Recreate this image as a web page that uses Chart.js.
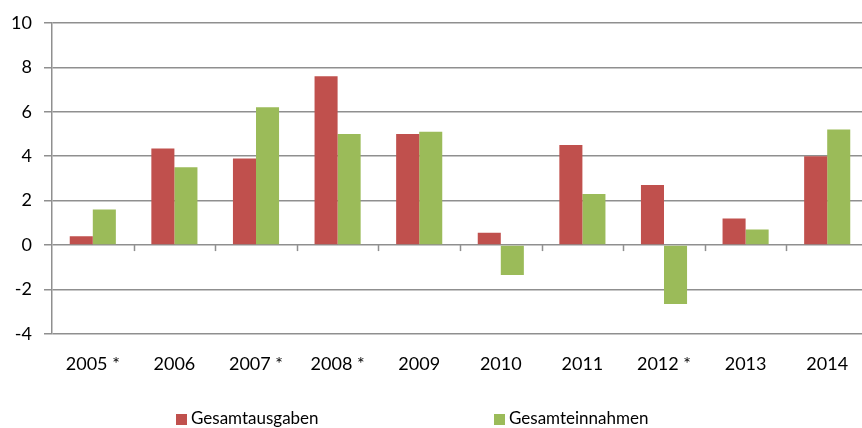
<!DOCTYPE html>
<html>
<head>
<meta charset="utf-8">
<script src="https://cdn.jsdelivr.net/npm/chart.js@4/dist/chart.umd.min.js"></script>
<style>
  html, body { margin: 0; padding: 0; background: #ffffff; overflow: hidden; }
  #wrap { width: 862px; height: 428px; overflow: hidden; }
  canvas { display: block; }
</style>
</head>
<body>
<div id="wrap"><canvas id="c" width="868" height="428"></canvas></div>
<script>
// Jahre (mit * gekennzeichnete Jahre laut Fußnote)
const categories = ['2005 *', '2006', '2007 *', '2008 *', '2009', '2010', '2011', '2012 *', '2013', '2014'];

// Veränderung gegenüber Vorjahr in %
const gesamtausgaben = [0.4, 4.35, 3.9, 7.6, 5.0, 0.55, 4.5, 2.7, 1.2, 4.0];
const gesamteinnahmen = [1.6, 3.5, 6.2, 5.0, 5.1, -1.35, 2.3, -2.65, 0.7, 5.2];

// y-Achse
const yTicks = [-4, -2, 0, 2, 4, 6, 8, 10];

const seriesNames = ['Gesamtausgaben', 'Gesamteinnahmen'];
const seriesColors = ['#C0504D', '#9BBB59'];

const FONT = 'Lato, "Open Sans", sans-serif';
const GRID = '#8f8f8f';

// Kleine Teilstriche an der Nulllinie zwischen den Kategorien
const zeroTicks = {
  id: 'zeroTicks',
  afterDatasetsDraw(chart) {
    const x = chart.scales.x, y = chart.scales.y;
    const y0 = y.getPixelForValue(0);
    const ctx = chart.ctx;
    ctx.save();
    ctx.strokeStyle = GRID;
    ctx.lineWidth = 1.5;
    for (let i = 1; i < categories.length; i++) {
      const xp = (x.getPixelForValue(i - 1) + x.getPixelForValue(i)) / 2;
      ctx.beginPath();
      ctx.moveTo(Math.round(xp) + 0.5, y0);
      ctx.lineTo(Math.round(xp) + 0.5, y0 + 6);
      ctx.stroke();
    }
    ctx.restore();
  }
};

// Legende unterhalb des Diagramms
const bottomLegend = {
  id: 'bottomLegend',
  afterDraw(chart) {
    const ctx = chart.ctx;
    const starts = [176, 494];
    const cy = 419;
    ctx.save();
    ctx.font = '17px ' + FONT;
    ctx.textBaseline = 'middle';
    chart.data.datasets.forEach((ds, i) => {
      ctx.fillStyle = ds.backgroundColor;
      ctx.fillRect(starts[i], cy - 5, 11, 11);
      ctx.fillStyle = '#000000';
      ctx.fillText(ds.label, starts[i] + 15, cy);
    });
    ctx.restore();
  }
};

new Chart(document.getElementById('c'), {
  type: 'bar',
  data: {
    labels: categories,
    datasets: [
      { label: seriesNames[0], data: gesamtausgaben, backgroundColor: seriesColors[0] },
      { label: seriesNames[1], data: gesamteinnahmen, backgroundColor: seriesColors[1] }
    ]
  },
  options: {
    responsive: false,
    animation: false,
    devicePixelRatio: 1,
    layout: { padding: { top: 21, left: 0, right: 0, bottom: 0 } },
    datasets: {
      bar: { categoryPercentage: 0.565, barPercentage: 1.0, borderWidth: 0 }
    },
    plugins: {
      legend: { display: false },
      tooltip: { enabled: false }
    },
    scales: {
      x: {
        grid: { display: false, drawTicks: false },
        border: { display: false },
        ticks: { color: '#000000', font: { family: FONT, size: 18 }, padding: 19, maxRotation: 0 },
        afterFit(scale) { scale.height = 94; }
      },
      y: {
        min: -4,
        max: 10,
        afterBuildTicks(scale) { scale.ticks = yTicks.map(v => ({ value: v })); },
        grid: { color: GRID, lineWidth: 1.5, tickLength: 8, drawTicks: true },
        border: { display: true, color: GRID, width: 1.5 },
        ticks: { color: '#000000', font: { family: FONT, size: 18 }, padding: 12 },
        afterFit(scale) { scale.width = 52; }
      }
    }
  },
  plugins: [zeroTicks, bottomLegend]
});
</script>
</body>
</html>
